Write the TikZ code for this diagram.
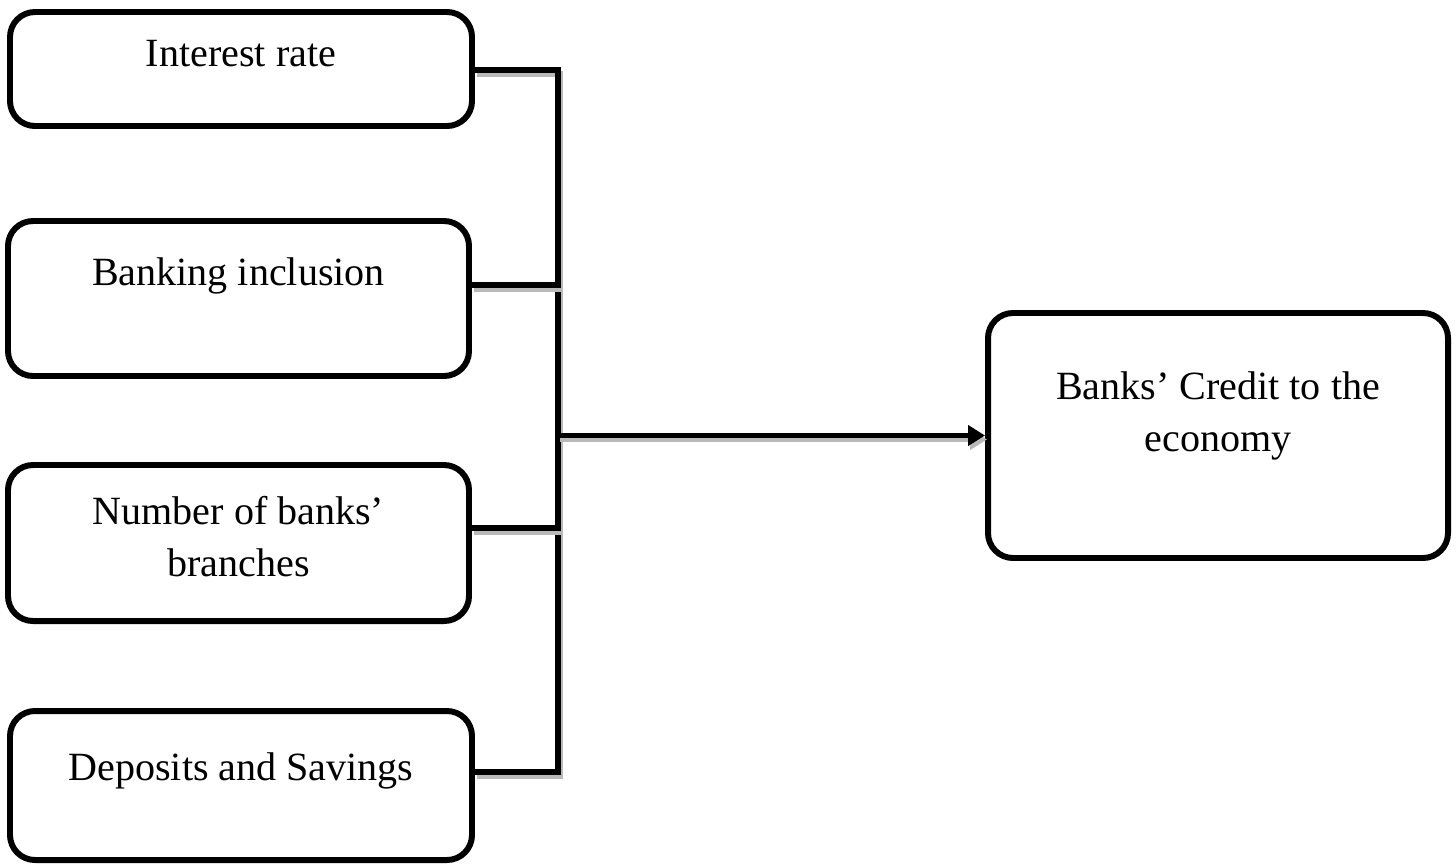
\documentclass[tikz,border=0pt]{standalone}
\usepackage{fontspec}
\setmainfont{Liberation Serif}
\usepackage{tikz}
\usetikzlibrary{positioning,arrows.meta}

\begin{document}
\begin{tikzpicture}[
    box/.style={draw, line width=1.7pt, rounded corners=0.25cm, inner sep=0pt},
    txt/.style={inner sep=0pt, align=center, font=\fontsize{11.4pt}{14.8pt}\selectfont},
    conn/.style={line width=1.7pt,
                 preaction={draw, gray!55, line width=1.7pt, transform canvas={shift={(0.02,-0.04)}}}},
    arr/.style={conn, -{Triangle[length=0.17cm,width=0.2cm]}},
]
\useasboundingbox (0,0) rectangle (14.56,-8.63);

% factors on the left
\node[box, minimum width=4.62cm, minimum height=1.14cm] (rate) at (2.41,-0.69)   {};
\node[box, minimum width=4.61cm, minimum height=1.55cm] (bank) at (2.385,-2.985) {};
\node[box, minimum width=4.61cm, minimum height=1.56cm] (branch) at (2.385,-5.43) {};
\node[box, minimum width=4.62cm, minimum height=1.49cm] (dep)  at (2.41,-7.855)  {};

% outcome on the right
\node[box, minimum width=4.60cm, minimum height=2.45cm] (credit) at (12.18,-4.355) {};

% texts
\node[txt, below=0.31cm of rate.north]   (rate-t)   {Interest rate};
\node[txt, below=0.39cm of bank.north]   (bank-t)   {Banking inclusion};
\node[txt, below=0.34cm of branch.north] (branch-t) {Number of banks'\\branches};
\node[txt, below=0.44cm of dep.north]    (dep-t)    {Deposits and Savings};
\node[txt, below=0.61cm of credit.north] (credit-t) {Banks' Credit to the\\economy};

% bus
\coordinate (top) at (5.58,-0.70);
\coordinate (bot) at (5.58,-7.72);

\draw[conn] (rate.east |- top) -- (top) -- (bot) -- (dep.east |- bot);
\draw[conn] ([yshift=1.35mm]bank.east) -- ++(0.89,0);
\draw[conn] ([yshift=1.5mm]branch.east) -- ++(0.89,0);
\draw[arr]  (credit.west -| top) -- (credit.west);
\end{tikzpicture}
\end{document}
